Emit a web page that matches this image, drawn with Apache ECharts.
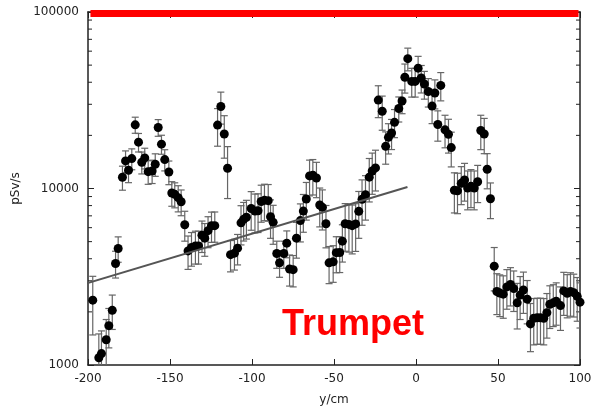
<!DOCTYPE html>
<html>
<head>
<meta charset="utf-8">
<title>Trumpet</title>
<script src="https://cdn.jsdelivr.net/npm/echarts@6/dist/echarts.min.js"></script>
<style>
    html, body { margin: 0; padding: 0; background: #fff; }
    #chart { width: 596px; height: 409px; }
</style>
</head>
<body>
<div id="chart"></div>
<script>
// 测量位置 (cm)
const xs = [
    -197.1, -193.4, -191.8, -188.9, -187.3, -185.2, -183.2, -181.6, -179.0, -177.1,
    -175.3, -173.3, -171.2, -169.2, -167.2, -165.4, -163.3, -160.9, -159.0, -157.2,
    -155.2, -153.2, -150.7, -148.9, -147.1, -145.0, -143.2, -141.0, -139.0, -136.9,
    -134.5, -132.6, -130.5, -128.8, -126.8, -124.7, -122.7, -121.0, -119.0, -116.9,
    -114.9, -113.1, -110.7, -108.8, -106.7, -105.1, -103.4, -100.5, -98.2, -96.3,
    -94.4, -92.4, -90.1, -88.7, -87.1, -84.9, -83.2, -80.6, -78.8, -77.1,
    -74.9, -72.9, -70.5, -68.7, -66.9, -64.9, -62.9, -60.7, -58.7, -57.1,
    -54.9, -53.0, -50.5, -48.6, -46.5, -44.9, -43.2, -40.9, -38.9, -36.8,
    -34.9, -32.9, -30.8, -28.5, -26.7, -24.7, -23.0, -20.6, -18.5, -16.8,
    -14.9, -13.1, -10.5, -8.5, -6.8, -5.0, -2.6, -0.5, 1.3, 3.2,
    5.1, 7.5, 9.8, 11.5, 13.3, 15.1, 17.7, 19.8, 21.5, 23.4,
    25.3, 27.6, 29.6, 31.5, 33.5, 35.5, 37.6, 39.5, 41.6, 43.4,
    45.4, 47.7, 49.3, 51.1, 53.2, 55.4, 57.6, 59.6, 61.7, 63.5,
    65.5, 67.8, 69.8, 71.8, 73.9, 75.9, 77.9, 79.8, 81.6, 83.7,
    85.5, 88.1, 90.1, 92.2, 94.2, 96.2, 98.3, 100.0
];

// 剂量率 (pSv/s)
const doseRate = [
    2330, 1100, 1160, 1390, 1670, 2040, 3760, 4570, 11580, 14330,
    12690, 14770, 22950, 18300, 14090, 14910, 12460, 12570, 13720, 22160,
    17830, 14580, 12410, 9430, 9270, 8870, 8410, 6230, 4430, 4630,
    4730, 4730, 5440, 5230, 5770, 6150, 6160, 22860, 29160, 20350,
    13020, 4220, 4300, 4590, 6390, 6690, 6870, 7700, 7450, 7480,
    8440, 8570, 8530, 6920, 6430, 4280, 3790, 4280, 4900, 3500,
    3470, 5230, 6580, 7450, 8720, 11780, 11890, 11470, 8060, 7820,
    6310, 3790, 3840, 4330, 4340, 5030, 6310, 6260, 6160, 6300,
    7420, 8690, 9220, 11590, 12570, 13080, 31700, 27380, 17330, 19490,
    20620, 23710, 28410, 31330, 42720, 54410, 40450, 40450, 48070, 42270,
    39080, 35440, 29310, 34750, 23040, 38370, 21500, 20270, 17050, 9770,
    9700, 10700, 11180, 10070, 10290, 10070, 10920, 21300, 20350, 12860,
    8750, 3630, 2610, 2560, 2520, 2770, 2860, 2710, 2250, 2490,
    2660, 2360, 1710, 1840, 1850, 1850, 1840, 1980, 2210, 2250,
    2300, 2170, 2630, 2550, 2610, 2570, 2450, 2270
];

// 误差 (pSv/s)
const doseErr = [
    850, 400, 400, 420, 420, 450, 650, 750, 1800, 2000,
    1900, 2000, 2400, 2200, 2000, 2000, 1900, 1900, 2000, 2400,
    2200, 2000, 1900, 1500, 1500, 1500, 1400, 1200, 950, 1000,
    1000, 1000, 1100, 1100, 1150, 1200, 1200, 5500, 6000, 5500,
    4250, 850, 850, 900, 1600, 1650, 1700, 1900, 1850, 1850,
    2000, 2000, 2000, 1700, 1600, 750, 650, 750, 850, 700,
    700, 1200, 1600, 1800, 2100, 2700, 2700, 2600, 2000, 2000,
    1700, 900, 900, 1000, 1000, 1200, 1900, 1900, 1900, 1900,
    2200, 2500, 2600, 3200, 3300, 3400, 6500, 6000, 3600, 3800,
    4000, 4300, 4600, 4800, 8000, 8000, 7500, 7500, 8000, 7500,
    7000, 6500, 6000, 6500, 4500, 7000, 4500, 4400, 3800, 2500,
    2500, 2600, 2700, 2500, 2500, 2500, 2600, 4700, 4600, 2900,
    2000, 1000, 680, 680, 680, 700, 700, 700, 650, 680,
    700, 650, 520, 540, 540, 540, 540, 560, 600, 600,
    620, 600, 720, 700, 720, 700, 680, 650
];

// 拟合直线 (两端点)
const fitX = [-253.4, -5.2];
const fitY = [2067, 10198];

// 顶部红线
const redX = [-198.5, 99.1];
const redY = [98000, 98000];

// 对数轴小刻度
const minorTicks = [2000, 3000, 4000, 5000, 6000, 7000, 8000, 9000,
    20000, 30000, 40000, 50000, 60000, 70000, 80000, 90000];

const xTicks = [-200, -150, -100, -50, 0, 50, 100];

document.addEventListener('DOMContentLoaded', function() {
    const chart = echarts.init(document.getElementById('chart'));

    const points = xs.map((x, i) => [x, doseRate[i]]);
    const bars = xs.map((x, i) => [x, doseRate[i] - doseErr[i], doseRate[i] + doseErr[i]]);

    const axisFont = { fontFamily: 'DejaVu Sans', fontSize: 12, color: '#222' };
    const axisLine = { show: true, onZero: false, lineStyle: { color: '#222', width: 1.5 } };
    const axisTick = { inside: true, length: 6, lineStyle: { color: '#222' } };

    // 误差棒
    function renderBar(params, api) {
        const x = api.value(0);
        const lo = api.coord([x, api.value(1)]);
        const hi = api.coord([x, api.value(2)]);
        const cap = 3.5;
        const style = { stroke: '#666', lineWidth: 1.2 };
        return {
            type: 'group',
            children: [
                { type: 'line', shape: { x1: lo[0], y1: lo[1], x2: hi[0], y2: hi[1] }, style: style },
                { type: 'line', shape: { x1: hi[0] - cap, y1: hi[1], x2: hi[0] + cap, y2: hi[1] }, style: style },
                { type: 'line', shape: { x1: lo[0] - cap, y1: lo[1], x2: lo[0] + cap, y2: lo[1] }, style: style }
            ]
        };
    }

    // 左右两侧的小刻度
    function renderMinor(params, api) {
        const v = api.value(0);
        const l = api.coord([-200, v]);
        const r = api.coord([100, v]);
        const style = { stroke: '#222', lineWidth: 1 };
        return {
            type: 'group',
            children: [
                { type: 'line', shape: { x1: l[0], y1: l[1], x2: l[0] + 4, y2: l[1] }, style: style },
                { type: 'line', shape: { x1: r[0], y1: r[1], x2: r[0] - 4, y2: r[1] }, style: style }
            ]
        };
    }

    chart.setOption({
        animation: false,
        backgroundColor: '#fff',
        grid: { left: 88, right: 16, top: 12, bottom: 44, containLabel: false, outerBoundsMode: 'none' },
        xAxis: [{
            type: 'value',
            min: -200,
            max: 100,
            interval: 50,
            name: 'y/cm',
            nameLocation: 'middle',
            nameGap: 29,
            nameTextStyle: axisFont,
            axisLine: axisLine,
            axisTick: axisTick,
            axisLabel: Object.assign({ margin: 8, customValues: xTicks }, axisFont),
            splitLine: { show: false }
        }, {
            type: 'value',
            position: 'top',
            min: -200,
            max: 100,
            interval: 50,
            axisLine: axisLine,
            axisTick: axisTick,
            axisLabel: { show: false },
            splitLine: { show: false }
        }],
        yAxis: [{
            type: 'log',
            logBase: 10,
            min: 1000,
            max: 100000,
            name: 'pSv/s',
            nameLocation: 'middle',
            nameGap: 64,
            nameTextStyle: axisFont,
            axisLine: axisLine,
            axisTick: axisTick,
            axisLabel: Object.assign({
                margin: 9,
                formatter: function(v) { return String(Math.round(v)); }
            }, axisFont),
            splitLine: { show: false }
        }, {
            type: 'log',
            logBase: 10,
            position: 'right',
            min: 1000,
            max: 100000,
            axisLine: axisLine,
            axisTick: axisTick,
            axisLabel: { show: false },
            splitLine: { show: false }
        }],
        series: [{
            type: 'custom',
            renderItem: renderMinor,
            data: minorTicks.map(v => [v]),
            encode: { y: 0 },
            clip: false,
            silent: true,
            z: 1
        }, {
            type: 'custom',
            renderItem: renderBar,
            data: bars,
            encode: { x: 0, y: [1, 2] },
            clip: true,
            z: 2
        }, {
            type: 'scatter',
            data: points,
            symbol: 'circle',
            symbolSize: 9,
            itemStyle: { color: '#000', opacity: 1 },
            z: 3
        }, {
            type: 'line',
            data: fitX.map((x, i) => [x, fitY[i]]),
            showSymbol: false,
            clip: false,
            lineStyle: { color: '#555', width: 2 },
            z: 4
        }, {
            type: 'line',
            data: redX.map((x, i) => [x, redY[i]]),
            showSymbol: false,
            clip: false,
            lineStyle: { color: '#ff0000', width: 7, cap: 'butt' },
            z: 5
        }],
        graphic: [{
            type: 'text',
            left: 282,
            top: 307,
            style: {
                text: 'Trumpet',
                fill: '#ff0000',
                font: 'bold 36px "Liberation Sans", Arial, sans-serif'
            }
        }]
    });

    window.addEventListener('resize', function() {
        chart.resize();
    });
});
</script>
</body>
</html>
